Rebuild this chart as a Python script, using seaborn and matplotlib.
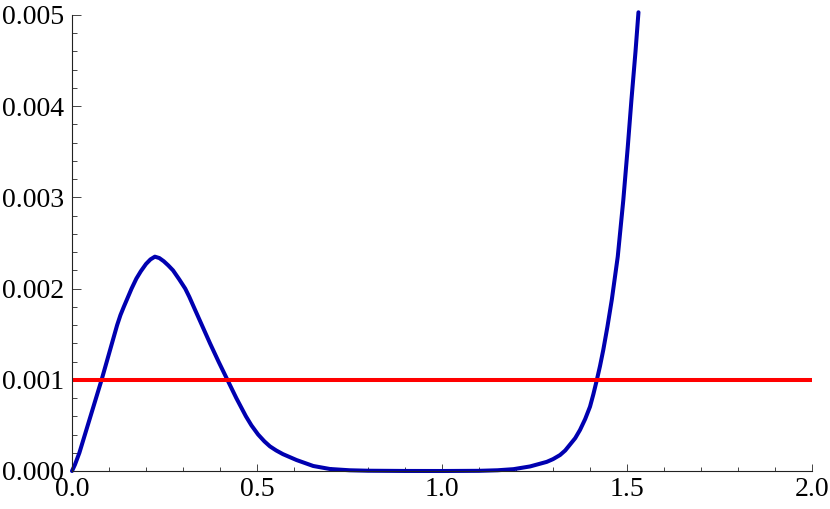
import numpy as np
import matplotlib
matplotlib.use("Agg")
import matplotlib.pyplot as plt
from matplotlib.ticker import MultipleLocator, FixedLocator
import seaborn as sns

# curve values
x_curve = [0.0, 0.008, 0.02, 0.035, 0.05, 0.065, 0.08, 0.094, 0.108, 0.122,
           0.131, 0.14, 0.161, 0.174, 0.186, 0.2, 0.212, 0.224, 0.236, 0.248,
           0.26, 0.273, 0.29, 0.306, 0.317, 0.329, 0.351, 0.373, 0.396, 0.42,
           0.444, 0.47, 0.485, 0.503, 0.52, 0.535, 0.552, 0.57, 0.607, 0.652,
           0.697, 0.75, 0.8, 0.9, 1.0, 1.1, 1.15, 1.193, 1.238, 1.283,
           1.3, 1.319, 1.333, 1.346, 1.36, 1.373, 1.387, 1.4, 1.409, 1.418,
           1.427, 1.436, 1.447, 1.459, 1.475, 1.49, 1.502, 1.512, 1.523, 1.531]
y_curve = [0.0, 0.00007, 0.0002, 0.0004, 0.0006, 0.0008, 0.001, 0.0012, 0.0014, 0.0016,
           0.00171, 0.0018, 0.002, 0.00211, 0.00219, 0.00227, 0.00232, 0.00235, 0.002335, 0.0023,
           0.002255, 0.0022, 0.0021, 0.002, 0.00191, 0.0018, 0.0016, 0.0014, 0.0012, 0.001,
           0.0008, 0.0006, 0.0005, 0.0004, 0.000325, 0.00027, 0.000225, 0.000185, 0.00012, 0.000055,
           0.000022, 0.000008, 0.000003, 0.0000005, 0.0, 0.000002, 0.000008, 0.00002, 0.00005, 0.0001,
           0.00013, 0.000175, 0.000225, 0.00029, 0.00036, 0.00045, 0.00057, 0.000705, 0.00084, 0.00099,
           0.00115, 0.00133, 0.00158, 0.00188, 0.00235, 0.00297, 0.00355, 0.00407, 0.0046, 0.00503]

x_level = [0.0, 2.0]
y_level = [0.001, 0.001]

x_ticks = [0.0, 0.5, 1.0, 1.5, 2.0]
x_labels = ["0.0", "0.5", "1.0", "1.5", "2.0"]
y_ticks = [0.0, 0.001, 0.002, 0.003, 0.004, 0.005]
y_labels = ["0.000", "0.001", "0.002", "0.003", "0.004", "0.005"]

sns.set_style("ticks")
plt.rcParams['font.family'] = ['Liberation Serif', 'DejaVu Serif']

fig = plt.figure(figsize=(8.3, 5.09), dpi=100)
ax = fig.add_axes([72/830, 38/509, 740/830, 456/509])

sns.lineplot(x=x_curve, y=y_curve, ax=ax, color='#0000b0', lw=2.9, clip_on=False)
sns.lineplot(x=x_level, y=y_level, ax=ax, color='#ff0000', lw=2.9, clip_on=False,
             solid_capstyle='butt')

ax.set_xlim(0, 2)
ax.set_ylim(0, 0.005)
ax.xaxis.set_major_locator(FixedLocator(x_ticks))
ax.set_xticklabels(x_labels)
ax.yaxis.set_major_locator(FixedLocator(y_ticks))
ax.set_yticklabels(y_labels)
ax.xaxis.set_minor_locator(MultipleLocator(0.1))
ax.yaxis.set_minor_locator(MultipleLocator(0.0002))

sns.despine(ax=ax)
for s in ['left', 'bottom']:
    ax.spines[s].set_linewidth(0.8)
    ax.spines[s].set_color('#222222')

ax.tick_params(axis='both', which='both', direction='in', color='#444444', width=0.7,
               labelsize=20, labelcolor='black')
ax.tick_params(axis='y', which='major', length=6.5, pad=6)
ax.tick_params(axis='y', which='minor', length=3.8)
ax.tick_params(axis='x', which='major', length=5, pad=4)
ax.tick_params(axis='x', which='minor', length=3)

fig.savefig('out.png', dpi=100)
